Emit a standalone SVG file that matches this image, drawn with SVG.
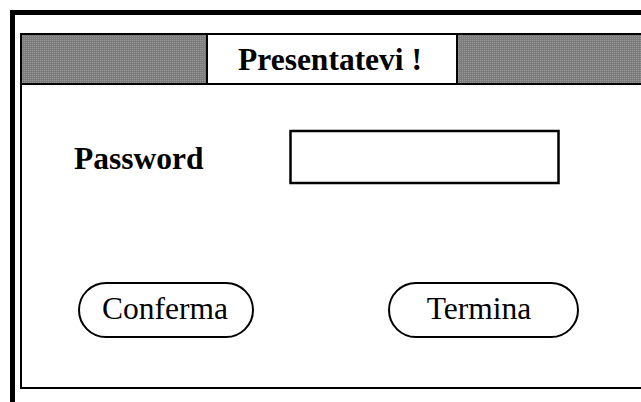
<svg xmlns="http://www.w3.org/2000/svg" width="641" height="402" viewBox="0 0 641 402">
<style>
.line{fill:none;stroke:#000}
.bold{font-family:"Liberation Serif","Times New Roman",serif;font-weight:bold;font-size:31.5px;fill:#000}
.reg{font-family:"Liberation Serif","Times New Roman",serif;font-size:31.5px;fill:#000}
.pill{fill:#fff;stroke:#000;stroke-width:2}
</style>
<defs>
<pattern id="dither" width="2" height="2" patternUnits="userSpaceOnUse">
<rect width="2" height="2" fill="#7c7c7c"/>
<rect width="1" height="1" fill="#989898"/>
</pattern>
</defs>
<rect width="641" height="402" fill="#fff"/>
<g id="frame">
<path class="line" d="M12.5,402 V12.5 H641" stroke-width="5"/>
<path class="line" d="M21,34 V388 H641" stroke-width="2"/>
</g>
<g id="titlebar">
<rect x="21" y="34" width="625" height="50" fill="url(#dither)" stroke="#000" stroke-width="2"/>
<rect x="207" y="34" width="250" height="50" fill="#fff" stroke="#000" stroke-width="2"/>
<text class="bold" x="330" y="70" text-anchor="middle">Presentatevi !</text>
</g>
<g id="password-label">
<text class="bold" x="74" y="168.5">Password</text>
</g>
<g id="password-field">
<rect x="290.5" y="131" width="268" height="52" fill="#fff" stroke="#000" stroke-width="2.5"/>
</g>
<g id="conferma">
<rect class="pill" x="79" y="283" width="174" height="54" rx="27" ry="27"/>
<text class="reg" x="165" y="318.5" text-anchor="middle">Conferma</text>
</g>
<g id="termina">
<rect class="pill" x="389" y="283" width="189" height="54" rx="27" ry="27"/>
<text class="reg" x="479" y="318.5" text-anchor="middle">Termina</text>
</g>
<g id="connectors"></g>
</svg>
